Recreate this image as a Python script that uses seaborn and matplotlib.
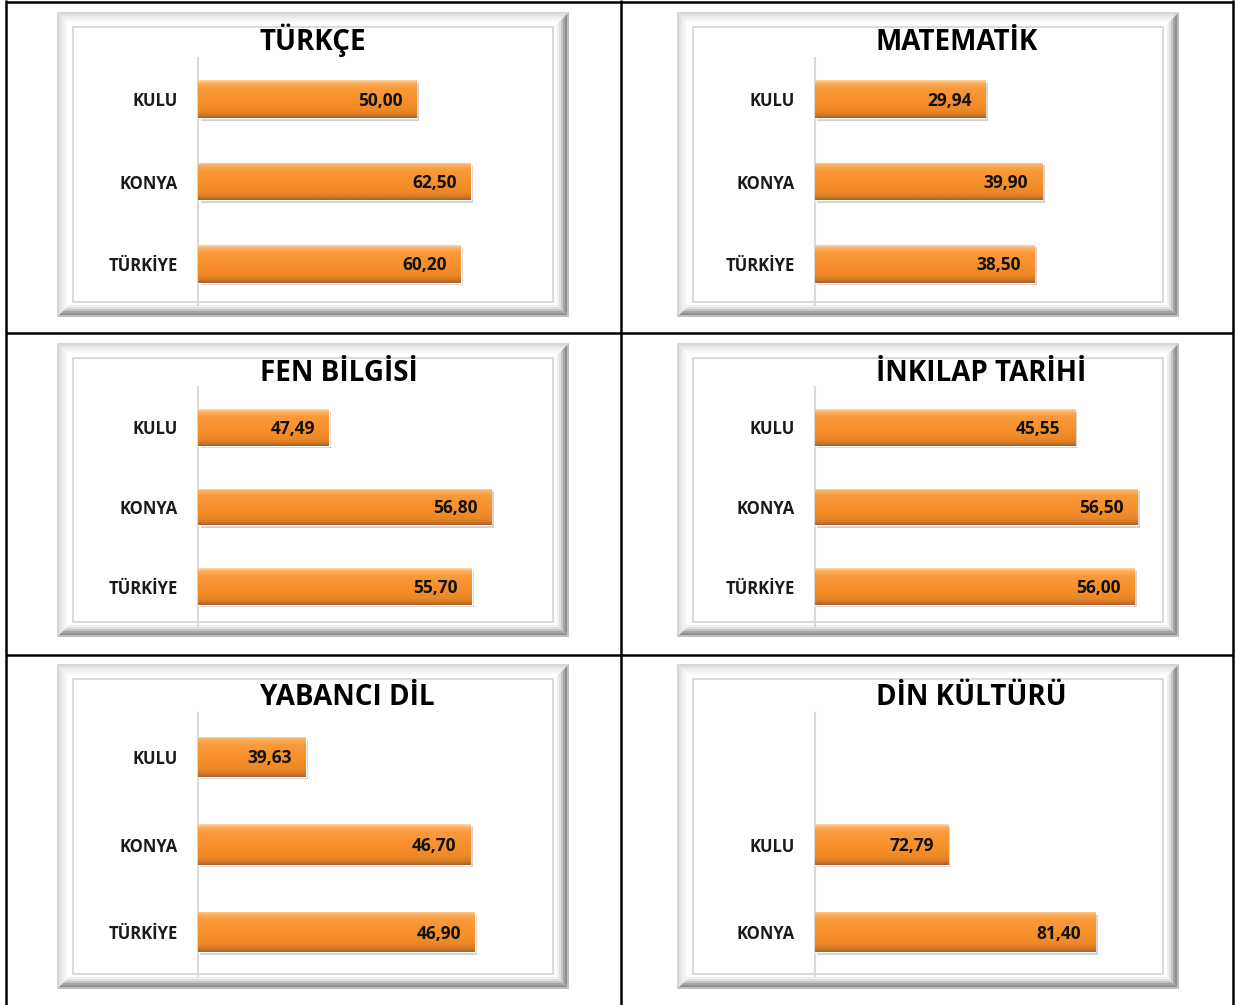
# -*- coding: utf-8 -*-
"""Kulu / Konya / Türkiye ders ortalamaları: altı panelli yatay çubuk grafik."""
import numpy as np
import pandas as pd
import matplotlib
matplotlib.use("Agg")
import matplotlib.pyplot as plt
import matplotlib.transforms as mtransforms
from matplotlib.colors import LinearSegmentedColormap
from matplotlib.patches import Polygon, Rectangle
import seaborn as sns

# --- veriler ---------------------------------------------------------------
categories = ["KULU", "KONYA", "TÜRKİYE"]
turkce = [50.00, 62.50, 60.20]
matematik = [29.94, 39.90, 38.50]
fen_bilgisi = [47.49, 56.80, 55.70]
inkilap_tarihi = [45.55, 56.50, 56.00]
yabanci_dil = [39.63, 46.70, 46.90]
din_categories = ["KULU", "KONYA"]
din_kulturu = [72.79, 81.40]

titles = ["TÜRKÇE", "MATEMATİK", "FEN BİLGİSİ", "İNKILAP TARİHİ",
          "YABANCI DİL", "DİN KÜLTÜRÜ"]
x_ranges = [(0, 80), (0, 60), (40, 60), (0, 60), (35, 50), (65, 85)]

panels = [
    (categories, turkce),
    (categories, matematik),
    (categories, fen_bilgisi),
    (categories, inkilap_tarihi),
    (categories, yabanci_dil),
    (din_categories, din_kulturu),
]

# --- düzen (piksel) -----------------------------------------------------------
W, H = 1235, 1005
COL_PLOT = [(198, 547), (814.5, 1157)]
ROW_PLOT = [(58, 305), (387.5, 626.5), (713, 976)]
COL_FRAME = [(57, 569), (677, 1179)]
ROW_FRAME = [(12, 317), (343, 637), (664, 989)]
TITLE_X = [260, 876]
TITLE_Y = [50, 381, 705]

bar_cmap = LinearSegmentedColormap.from_list("turuncu", [
    (0.00, "#fdd6a6"), (0.07, "#fbb060"), (0.20, "#f99a3c"),
    (0.55, "#f7902a"), (0.82, "#ec8726"), (0.93, "#d27626"),
    (1.00, "#a5622c")])


def bevel_frame(ax, x0, y0, x1, y1):
    ax.add_patch(Rectangle((x0, y0), x1 - x0, y1 - y0, facecolor="white",
                           edgecolor="none", zorder=1))
    t = 2.0
    tl = ["#d6d6d6", "#e2e2e2", "#ebebeb", "#f2f2f2", "#f8f8f8", "white", "white"]
    br = ["#bdbdbd", "#8f8f8f", "#a6a6a6", "#c6c6c6", "#e0e0e0", "#f0f0f0", "white"]
    for k in range(len(tl)):
        a, b = k * t, (k + 1) * t
        top = [(x0 + a, y0 + a), (x1 - a, y0 + a), (x1 - b, y0 + b), (x0 + b, y0 + b)]
        left = [(x0 + a, y0 + a), (x0 + b, y0 + b), (x0 + b, y1 - b), (x0 + a, y1 - a)]
        bottom = [(x0 + a, y1 - a), (x1 - a, y1 - a), (x1 - b, y1 - b), (x0 + b, y1 - b)]
        right = [(x1 - a, y0 + a), (x1 - a, y1 - a), (x1 - b, y1 - b), (x1 - b, y0 + b)]
        for pts, c in ((top, tl[k]), (left, tl[k]), (bottom, br[k]), (right, br[k])):
            ax.add_patch(Polygon(pts, closed=True, facecolor=c, edgecolor="none", zorder=2))
    ax.add_patch(Rectangle((x0 + 16, y0 + 15), x1 - x0 - 32, y1 - y0 - 30,
                           facecolor="none", edgecolor="#d4d4d4", lw=1.2, zorder=3))


def main():
    sns.set_theme(style="white")
    plt.rcParams["font.family"] = ["Open Sans", "DejaVu Sans"]

    fig = plt.figure(figsize=(W / 100, H / 100), dpi=100)
    fig.patch.set_facecolor("white")

    # arka plan: tablo çizgileri, çerçeveler, başlıklar
    bg = fig.add_axes([0, 0, 1, 1], zorder=0)
    bg.set_xlim(0, W)
    bg.set_ylim(H, 0)
    bg.axis("off")
    for x in (6, 621, 1233):
        bg.plot([x, x], [0, H], color="black", lw=1.8, solid_capstyle="butt", zorder=5)
    for y in (1.5, 333, 655):
        bg.plot([6, 1233], [y, y], color="black", lw=1.8, solid_capstyle="butt", zorder=5)

    for i, ((cats, vals), title, (xmin, xmax)) in enumerate(zip(panels, titles, x_ranges)):
        r, c = divmod(i, 2)
        fx0, fx1 = COL_FRAME[c]
        fy0, fy1 = ROW_FRAME[r]
        bevel_frame(bg, fx0, fy0, fx1, fy1)
        bg.text(TITLE_X[c], TITLE_Y[r], title, ha="left", va="baseline",
                fontsize=20, fontweight="bold", color="black", zorder=6)

        px0, px1 = COL_PLOT[c]
        py0, py1 = ROW_PLOT[r]
        ax = fig.add_axes([px0 / W, 1 - py1 / H, (px1 - px0) / W, (py1 - py0) / H],
                          zorder=1)
        ax.set_facecolor("none")
        df = pd.DataFrame({"bolge": cats, "deger": vals})
        sns.barplot(data=df, x="deger", y="bolge", orient="h", width=0.46,
                    color="#f7902a", ax=ax, zorder=3)
        n = len(cats)

        shadow_off = mtransforms.ScaledTranslation(2.5 / 100, -2.5 / 100, fig.dpi_scale_trans)
        for bar, v in zip(ax.patches, vals):
            bx, by = bar.get_x(), bar.get_y()
            bw, bh = bar.get_width(), bar.get_height()
            left = max(bx, xmin)
            right = bx + bw
            ax.add_patch(Rectangle((left, by), right - left, bh, facecolor="#7a7a7a",
                                   alpha=0.35, edgecolor="none",
                                   transform=ax.transData + shadow_off, zorder=2))
            grad = np.linspace(0, 1, 64).reshape(-1, 1)
            im = ax.imshow(grad, extent=(left, right, by + bh, by), origin="upper",
                           aspect="auto", cmap=bar_cmap, zorder=4,
                           interpolation="bilinear")
            im.set_clip_path(bar)
            ax.annotate(f"{v:.2f}".replace(".", ","), xy=(v, by + bh / 2),
                        xytext=(-10, -1), textcoords="offset points",
                        ha="right", va="center", fontsize=12.5, fontweight="bold",
                        color="#111111", zorder=6)
        ax.set_xlim(xmin, xmax)
        ax.set_ylim(n - 0.5, -0.5 - (3 - n))

        ax.set_xlabel("")
        ax.set_ylabel("")
        ax.set_xticks([])
        ax.tick_params(axis="y", length=0, pad=14.4, labelsize=12, labelcolor="#1a1a1a")
        for lab in ax.get_yticklabels():
            lab.set_fontweight("bold")
        for s in ("top", "right", "bottom"):
            ax.spines[s].set_visible(False)
        ax.spines["left"].set_color("#d9d9d9")
        ax.spines["left"].set_linewidth(1.5)

    fig.savefig("out.png", dpi=100, facecolor="white")
    plt.close(fig)


if __name__ == "__main__":
    main()
